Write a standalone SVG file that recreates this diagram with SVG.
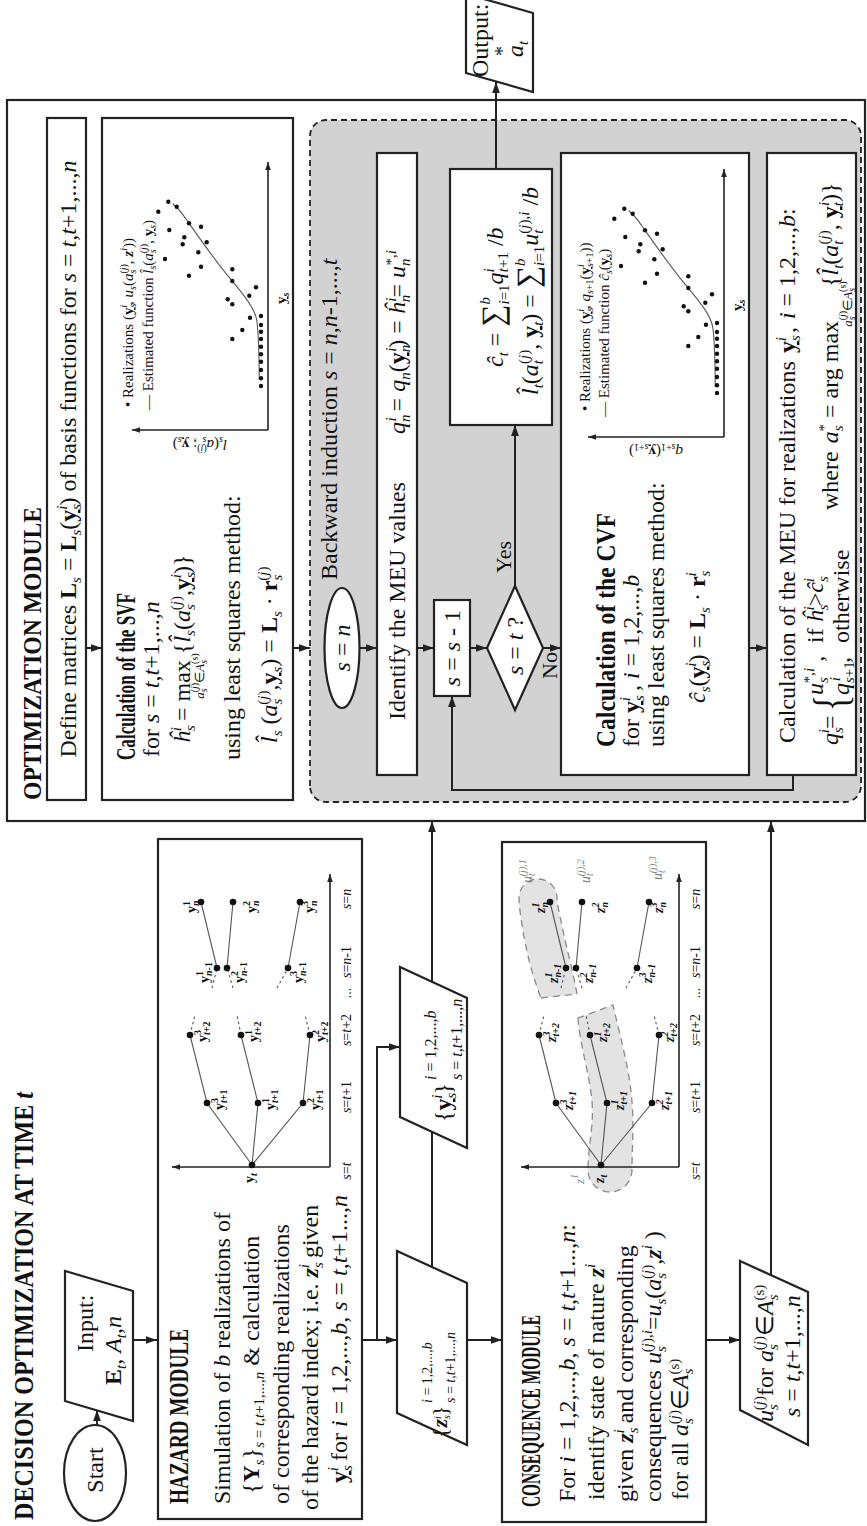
<svg xmlns="http://www.w3.org/2000/svg" width="867" height="1526" viewBox="0 0 867 1526">
<style>
svg{font-family:"Liberation Serif","Times New Roman",serif;font-size:24px}
text{fill:#111}
.bd{font-weight:bold}
.it{font-style:italic}
.ul{text-decoration:underline}
.sb{font-size:15px;baseline-shift:-5px}
.sp{font-size:15px;baseline-shift:9px}
.f13{font-size:13px}
.f14{font-size:14px}
.f15{font-size:15px}
.f16{font-size:16px}
.f20{font-size:20px}
.f22{font-size:22px}
.f26{font-size:26px}
.f27{font-size:27px}
.f30{font-size:31px}
.ls{font-size:10px;baseline-shift:-3px}
.lp{font-size:10px;baseline-shift:6px}
.gr{fill:#808080}
.box{fill:#fff;stroke:#222;stroke-width:2.2}
.ln{fill:none;stroke:#222;stroke-width:2}
.tl{fill:none;stroke:#555;stroke-width:1.1}
.dl{fill:none;stroke:#555;stroke-width:1.1;stroke-dasharray:2.5 3}
.ax{fill:none;stroke:#222;stroke-width:1.6}
.band{fill:#e3e3e3;stroke:#8a8a8a;stroke-width:1.3;stroke-dasharray:7 5}
.dot{fill:#111}
</style>
<defs>
<marker id="a" viewBox="0 0 10 10" refX="10" refY="5" markerWidth="11" markerHeight="11" orient="auto" markerUnits="userSpaceOnUse"><path d="M0,1.5L10,5L0,8.5z" fill="#222"/></marker>
<marker id="s" viewBox="0 0 10 10" refX="10" refY="5" markerWidth="8" markerHeight="8" orient="auto" markerUnits="userSpaceOnUse"><path d="M0,1.5L10,5L0,8.5z" fill="#222"/></marker>
<g id="tree">
<path class="ax" d="M359,330V172" marker-end="url(#s)"/>
<path class="ax" d="M359,330H652" marker-end="url(#s)"/>
<path class="tl" d="M361,252L423,207L491,190M361,252L423,258L491,241M361,252L423,303L491,310M558,217L624,201M558,227L624,233M558,288L624,300"/>
<path class="dl" d="M491,190L511,195M491,241L511,237M491,310L511,305M538,212L558,217M538,233L558,227M538,277L558,288"/>
<g class="dot">
<circle cx="361" cy="252" r="3.3"/>
<circle cx="423" cy="207" r="3.3"/><circle cx="423" cy="258" r="3.3"/><circle cx="423" cy="303" r="3.3"/>
<circle cx="491" cy="190" r="3.3"/><circle cx="491" cy="241" r="3.3"/><circle cx="491" cy="310" r="3.3"/>
<circle cx="558" cy="217" r="3.3"/><circle cx="558" cy="227" r="3.3"/><circle cx="558" cy="288" r="3.3"/>
<circle cx="624" cy="201" r="3.3"/><circle cx="624" cy="233" r="3.3"/><circle cx="624" cy="300" r="3.3"/>
</g>
<text class="f14" x="355" y="351" text-anchor="middle"><tspan class="it">s</tspan>=<tspan class="it">t</tspan></text>
<text class="f14" x="429" y="351" text-anchor="middle"><tspan class="it">s</tspan>=<tspan class="it">t</tspan>+1</text>
<text class="f14" x="496" y="351" text-anchor="middle"><tspan class="it">s</tspan>=<tspan class="it">t</tspan>+2</text>
<text class="f14" x="533" y="351" text-anchor="middle">...</text>
<text class="f14" x="564" y="351" text-anchor="middle"><tspan class="it">s</tspan>=<tspan class="it">n</tspan>-1</text>
<text class="f14" x="627" y="351" text-anchor="middle"><tspan class="it">s</tspan>=<tspan class="it">n</tspan></text>
</g>
<g id="chart">
<path class="ax" d="M1096,268V132" marker-end="url(#s)"/>
<path class="ax" d="M1096,268H1364" marker-end="url(#s)"/>
<path class="tl" d="M1146,259.3C1180,259 1195,258.5 1206,256.7S1230,245 1247.7,230S1290,198 1306,186.7S1318,176 1322.7,172.7"/>
<g class="dot">
<circle cx="1324.3" cy="168.3" r="2.2"/><circle cx="1319.3" cy="176.7" r="2.2"/><circle cx="1314.3" cy="158.3" r="2.2"/><circle cx="1296" cy="169.3" r="2.2"/>
<circle cx="1302.7" cy="189" r="2.2"/><circle cx="1299.3" cy="201" r="2.2"/><circle cx="1288.7" cy="184.3" r="2.2"/><circle cx="1281.7" cy="182.7" r="2.2"/>
<circle cx="1283.7" cy="206.7" r="2.2"/><circle cx="1273.7" cy="198.3" r="2.2"/><circle cx="1267" cy="165" r="2.2"/><circle cx="1259.3" cy="201" r="2.2"/>
<circle cx="1250.3" cy="189" r="2.2"/><circle cx="1256.7" cy="232.3" r="2.2"/><circle cx="1245" cy="232.3" r="2.2"/><circle cx="1238.7" cy="256" r="2.2"/>
<circle cx="1230.3" cy="249.3" r="2.2"/><circle cx="1226.7" cy="227.7" r="2.2"/><circle cx="1221.7" cy="232.3" r="2.2"/><circle cx="1210" cy="261" r="2.2"/>
<circle cx="1208.3" cy="250" r="2.2"/><circle cx="1201" cy="261" r="2.2"/><circle cx="1194.3" cy="261" r="2.2"/><circle cx="1196" cy="242.3" r="2.2"/>
<circle cx="1187" cy="261" r="2.2"/><circle cx="1187" cy="232.3" r="2.2"/><circle cx="1179.3" cy="261" r="2.2"/><circle cx="1171.7" cy="261" r="2.2"/>
<circle cx="1164.3" cy="261" r="2.2"/><circle cx="1156" cy="261" r="2.2"/><circle cx="1147.7" cy="261" r="2.2"/><circle cx="1140" cy="261" r="2.2"/>
</g>
</g>
</defs>
<g transform="translate(0,1526) rotate(-90)">

<text class="bd f27" x="6" y="33" textLength="428" lengthAdjust="spacingAndGlyphs">DECISION OPTIMIZATION AT TIME <tspan class="it">t</tspan></text>

<g id="optimization-frame">
<rect class="box" x="705" y="7" width="721" height="858"/>
<text class="bd f26" x="726" y="41" textLength="293" lengthAdjust="spacingAndGlyphs">OPTIMIZATION MODULE</text>
<rect x="724" y="310" width="682" height="551" rx="16" fill="#d2d2d2" stroke="#222" stroke-width="1.8" stroke-dasharray="6 4"/>
<text x="946" y="337">Backward induction <tspan class="it">s</tspan> = <tspan class="it">n</tspan>,<tspan class="it">n</tspan>-1,...,<tspan class="it">t</tspan></text>
</g>

<g id="connectors">
<path class="ln" d="M101,97H116" marker-end="url(#a)"/>
<path class="ln" d="M186,133V157" marker-end="url(#a)"/>
<path class="ln" d="M186,362V397" marker-end="url(#a)"/>
<path class="ln" d="M186,377H479V400" marker-end="url(#a)"/>
<path class="ln" d="M186,467V502" marker-end="url(#a)"/>
<path class="ln" d="M259,432H705" marker-end="url(#a)"/>
<path class="ln" d="M186,706V740" marker-end="url(#a)"/>
<path class="ln" d="M251,771H705" marker-end="url(#a)"/>
<path class="ln" d="M878,86V102" marker-end="url(#a)"/>
<path class="ln" d="M878,293V310" marker-end="url(#a)"/>
<path class="ln" d="M878,360V377" marker-end="url(#a)"/>
<path class="ln" d="M878,417V434" marker-end="url(#a)"/>
<path class="ln" d="M878,470V487" marker-end="url(#a)"/>
<path class="ln" d="M878,543V561" marker-end="url(#a)"/>
<path class="ln" d="M940,515H1101" marker-end="url(#a)"/>
<path class="ln" d="M878,749V767" marker-end="url(#a)"/>
<path class="ln" d="M751,793H736V452H830" marker-end="url(#a)"/>
<path class="ln" d="M1357,496H1444" marker-end="url(#a)"/>
<text class="f22" x="847" y="557">No</text>
<text class="f22" x="953" y="511">Yes</text>
</g>

<g id="start">
<ellipse class="box" cx="53" cy="95" rx="48" ry="31"/>
<text x="56" y="103" text-anchor="middle">Start</text>
</g>

<g id="input">
<polygon class="box" points="125,65 255,65 235,133 105,133"/>
<text x="174" y="93">Input:</text>
<text x="141" y="121"><tspan class="bd">E</tspan><tspan class="sb it">t</tspan>, <tspan class="it">A</tspan><tspan class="sb it">t</tspan>,<tspan class="it">n</tspan></text>
</g>

<g id="hazard-module">
<rect class="box" x="7" y="158" width="680" height="204"/>
<text class="bd f27" x="22" y="188" textLength="175" lengthAdjust="spacingAndGlyphs">HAZARD MODULE</text>
<text x="22" y="230">Simulation of <tspan class="it">b</tspan> realizations of</text>
<text x="32" y="259">{<tspan class="bd">Y</tspan><tspan class="sb it">s</tspan>}<tspan class="sb"><tspan class="it">s</tspan> = <tspan class="it">t</tspan>,<tspan class="it">t</tspan>+1,...,<tspan class="it">n</tspan></tspan> &amp; calculation</text>
<text x="22" y="289">of corresponding realizations</text>
<text x="16" y="318">of the hazard index; i.e. <tspan class="bd it">z</tspan><tspan class="sb it">s</tspan><tspan class="sp it" dx="-6">i</tspan> given</text>
<text x="43" y="347"><tspan class="bd ul">y</tspan><tspan class="sb it">s</tspan><tspan class="sp it" dx="-6">i</tspan> for <tspan class="it">i</tspan> = 1,2,...,<tspan class="it">b</tspan>, <tspan class="it">s</tspan> = <tspan class="it">t</tspan>,<tspan class="it">t</tspan>+1...,<tspan class="it">n</tspan></text>
<use href="#tree"/>
<g class="bd">
<text class="f14" x="343" y="254">y<tspan class="ls it">t</tspan></text>
<text class="f14" x="416" y="224">y<tspan class="lp">3</tspan><tspan class="ls it" dx="-5">t</tspan><tspan class="ls">+1</tspan></text>
<text class="f14" x="416" y="275">y<tspan class="lp">1</tspan><tspan class="ls it" dx="-5">t</tspan><tspan class="ls">+1</tspan></text>
<text class="f14" x="416" y="320">y<tspan class="lp">2</tspan><tspan class="ls it" dx="-5">t</tspan><tspan class="ls">+1</tspan></text>
<text class="f14" x="484" y="207">y<tspan class="lp">3</tspan><tspan class="ls it" dx="-5">t</tspan><tspan class="ls">+2</tspan></text>
<text class="f14" x="484" y="258">y<tspan class="lp">1</tspan><tspan class="ls it" dx="-5">t</tspan><tspan class="ls">+2</tspan></text>
<text class="f14" x="484" y="325">y<tspan class="lp">2</tspan><tspan class="ls it" dx="-5">t</tspan><tspan class="ls">+2</tspan></text>
<text class="f14" x="543" y="209">y<tspan class="lp">1</tspan><tspan class="ls it" dx="-5">n</tspan><tspan class="ls">-1</tspan></text>
<text class="f14" x="543" y="244">y<tspan class="lp">2</tspan><tspan class="ls it" dx="-5">n</tspan><tspan class="ls">-1</tspan></text>
<text class="f14" x="543" y="303">y<tspan class="lp">3</tspan><tspan class="ls it" dx="-5">n</tspan><tspan class="ls">-1</tspan></text>
<text class="f14" x="613" y="196">y<tspan class="lp">1</tspan><tspan class="ls it" dx="-5">n</tspan></text>
<text class="f14" x="613" y="256">y<tspan class="lp">2</tspan><tspan class="ls it" dx="-5">n</tspan></text>
<text class="f14" x="613" y="314">y<tspan class="lp">3</tspan><tspan class="ls it" dx="-5">n</tspan></text>
</g>
</g>

<g id="z-realizations">
<polygon class="box" points="113,397 275,397 243,467 81,467"/>
<text class="f22" x="88" y="447">{<tspan class="bd it">z</tspan><tspan class="ls it">s</tspan><tspan class="lp it" dx="-4">i</tspan>}</text>
<text class="f14" x="123" y="432"><tspan class="it">i</tspan> = 1,2,...,<tspan class="it">b</tspan></text>
<text class="f14" x="123" y="455"><tspan class="it">s</tspan> = <tspan class="it">t</tspan>,<tspan class="it">t</tspan>+1,...,<tspan class="it">n</tspan></text>
</g>

<g id="y-realizations">
<polygon class="box" points="409,400 559,400 528,467 378,467"/>
<text x="404" y="451">{<tspan class="bd ul">y</tspan><tspan class="sb it">s</tspan><tspan class="sp it" dx="-6">i</tspan>}</text>
<text class="f16" x="446" y="436"><tspan class="it">i</tspan> = 1,2,...,<tspan class="it">b</tspan></text>
<text class="f16" x="446" y="462"><tspan class="it">s</tspan> = <tspan class="it">t</tspan>,<tspan class="it">t</tspan>+1,...,<tspan class="it">n</tspan></text>
</g>

<g id="consequence-module">
<rect class="box" x="4" y="502" width="680" height="204"/>
<path class="band" d="M508,578C480,580 450,590 424,592C400,594 380,588 356,588A22,22 0 0 0 356,632C380,632 400,634 424,632C455,630 490,620 521,613Z"/>
<path class="band" d="M528,541L532,577C550,574 580,566 600,562C615,559 622,557 628,557A19,19 0 0 0 628,519C615,519 580,525 558,531C545,535 535,538 528,541Z"/>
<use href="#tree" transform="translate(0,349)"/>
<text class="bd f27" x="19" y="540" textLength="192" lengthAdjust="spacingAndGlyphs">CONSEQUENCE MODULE</text>
<text x="24" y="575">For <tspan class="it">i</tspan> = 1,2,...,<tspan class="it">b</tspan>, <tspan class="it">s</tspan> = <tspan class="it">t</tspan>,<tspan class="it">t</tspan>+1...,<tspan class="it">n</tspan>:</text>
<text x="26" y="604">identify state of nature <tspan class="bd it">z</tspan><tspan class="sp it">i</tspan></text>
<text x="24" y="633">given <tspan class="bd it">z</tspan><tspan class="sb it">s</tspan><tspan class="sp it" dx="-6">i</tspan> and corresponding</text>
<text x="24" y="661">consequences <tspan class="it">u</tspan><tspan class="sb it">s</tspan><tspan class="sp" dx="-6">(<tspan class="it">j</tspan>),<tspan class="it">i</tspan></tspan>=<tspan class="it">u</tspan><tspan class="sb it">s</tspan>(<tspan class="it">a</tspan><tspan class="sb it">s</tspan><tspan class="sp" dx="-6">(<tspan class="it">j</tspan>)</tspan>,<tspan class="bd it">z</tspan><tspan class="sp it">i</tspan> )</text>
<text x="26" y="688">for all <tspan class="it">a</tspan><tspan class="sb it">s</tspan><tspan class="sp" dx="-6">(<tspan class="it">j</tspan>)</tspan>∈<tspan class="it">A</tspan><tspan class="sb it">s</tspan><tspan class="sp" dx="-6">(s)</tspan></text>
<text class="f13 gr it" x="342" y="584">z<tspan class="lp">1</tspan></text>
<text class="f14 gr it" x="643" y="532">u<tspan class="ls">t</tspan><tspan class="lp" dx="-3">(j),1</tspan></text>
<text class="f14 gr it" x="643" y="590">u<tspan class="ls">t</tspan><tspan class="lp" dx="-3">(j),2</tspan></text>
<text class="f14 gr it" x="646" y="662">u<tspan class="ls">t</tspan><tspan class="lp" dx="-3">(j),3</tspan></text>
<g class="bd it">
<text class="f14" x="343" y="604">z<tspan class="ls">t</tspan></text>
<text class="f14" x="416" y="573">z<tspan class="lp">3</tspan><tspan class="ls" dx="-5">t</tspan><tspan class="ls">+1</tspan></text>
<text class="f14" x="416" y="624">z<tspan class="lp">1</tspan><tspan class="ls" dx="-5">t</tspan><tspan class="ls">+1</tspan></text>
<text class="f14" x="416" y="669">z<tspan class="lp">2</tspan><tspan class="ls" dx="-5">t</tspan><tspan class="ls">+1</tspan></text>
<text class="f14" x="484" y="556">z<tspan class="lp">3</tspan><tspan class="ls" dx="-5">t</tspan><tspan class="ls">+2</tspan></text>
<text class="f14" x="484" y="607">z<tspan class="lp">1</tspan><tspan class="ls" dx="-5">t</tspan><tspan class="ls">+2</tspan></text>
<text class="f14" x="484" y="674">z<tspan class="lp">2</tspan><tspan class="ls" dx="-5">t</tspan><tspan class="ls">+2</tspan></text>
<text class="f14" x="543" y="558">z<tspan class="lp">1</tspan><tspan class="ls" dx="-5">n</tspan><tspan class="ls">-1</tspan></text>
<text class="f14" x="543" y="593">z<tspan class="lp">2</tspan><tspan class="ls" dx="-5">n</tspan><tspan class="ls">-1</tspan></text>
<text class="f14" x="543" y="652">z<tspan class="lp">3</tspan><tspan class="ls" dx="-5">n</tspan><tspan class="ls">-1</tspan></text>
<text class="f14" x="613" y="545">z<tspan class="lp">1</tspan><tspan class="ls" dx="-5">n</tspan></text>
<text class="f14" x="613" y="605">z<tspan class="lp">2</tspan><tspan class="ls" dx="-5">n</tspan></text>
<text class="f14" x="613" y="663">z<tspan class="lp">3</tspan><tspan class="ls" dx="-5">n</tspan></text>
</g>
</g>

<g id="consequence-output">
<polygon class="box" points="116,740 265,740 234,808 81,808"/>
<text x="104" y="773"><tspan class="it">u</tspan><tspan class="sb it">s</tspan><tspan class="sp" dx="-6">(<tspan class="it">j</tspan>)</tspan>for <tspan class="it">a</tspan><tspan class="sb it">s</tspan><tspan class="sp" dx="-6">(<tspan class="it">j</tspan>)</tspan>∈<tspan class="it">A</tspan><tspan class="sb it">s</tspan><tspan class="sp" dx="-6">(s)</tspan></text>
<text x="109" y="800"><tspan class="it">s</tspan> = <tspan class="it">t</tspan>,<tspan class="it">t</tspan>+1,...,<tspan class="it">n</tspan></text>
</g>

<g id="define-matrices">
<rect class="box" x="726" y="47" width="682" height="39"/>
<text x="1067" y="76" text-anchor="middle">Define matrices <tspan class="bd">L</tspan><tspan class="sb it">s</tspan> = <tspan class="bd">L</tspan><tspan class="sb it">s</tspan>(<tspan class="bd ul">y</tspan><tspan class="sb it">s</tspan><tspan class="sp it" dx="-6">i</tspan>) of basis functions for <tspan class="it">s</tspan> = <tspan class="it">t</tspan>,<tspan class="it">t</tspan>+1,...,<tspan class="it">n</tspan></text>
</g>

<g id="svf">
<rect class="box" x="726" y="102" width="682" height="191"/>
<text class="bd f27" x="766" y="135" textLength="167" lengthAdjust="spacingAndGlyphs">Calculation of the SVF</text>
<text x="769" y="159">for <tspan class="it">s</tspan> = <tspan class="it">t</tspan>,<tspan class="it">t</tspan>+1,...,<tspan class="it">n</tspan></text>
<text x="783" y="190"><tspan class="it">ĥ</tspan><tspan class="sb it">s</tspan><tspan class="sp it" dx="-6">i</tspan> = max {<tspan class="it">l̂</tspan><tspan class="sb it">s</tspan>(<tspan class="it">a</tspan><tspan class="sb it">s</tspan><tspan class="sp" dx="-6">(<tspan class="it">j</tspan>)</tspan>,<tspan class="bd ul">y</tspan><tspan class="sb it">s</tspan><tspan class="sp it" dx="-6">i</tspan>)}</text>
<text class="f13" x="850" y="204" text-anchor="middle"><tspan class="it">a</tspan><tspan class="ls it">s</tspan><tspan class="lp" dx="-4">(<tspan class="it">j</tspan>)</tspan>∈<tspan class="it">A</tspan><tspan class="ls it">s</tspan><tspan class="lp" dx="-4">(s)</tspan></text>
<text x="766" y="240">using least squares method:</text>
<text x="783" y="277"><tspan class="it">l̂</tspan><tspan class="sb it">s</tspan> (<tspan class="it">a</tspan><tspan class="sb it">s</tspan><tspan class="sp" dx="-6">(<tspan class="it">j</tspan>)</tspan>,<tspan class="bd ul">y</tspan><tspan class="sb it">s</tspan>) = <tspan class="bd">L</tspan><tspan class="sb it">s</tspan> · <tspan class="bd">r</tspan><tspan class="sb it">s</tspan><tspan class="sp" dx="-6">(<tspan class="it">j</tspan>)</tspan></text>
<use href="#chart"/>
<text class="f15" x="1119" y="133">• Realizations (<tspan class="bd ul">y</tspan><tspan class="ls it">s</tspan><tspan class="lp it" dx="-4">i</tspan>, <tspan class="it">u</tspan><tspan class="ls it">s</tspan>(<tspan class="it">a</tspan><tspan class="ls it">s</tspan><tspan class="lp" dx="-4">(<tspan class="it">j</tspan>)</tspan>, <tspan class="bd it">z</tspan><tspan class="lp it">i</tspan>))</text>
<text class="f15" x="1116" y="153">— Estimated function <tspan class="it">l̂</tspan><tspan class="ls it">s</tspan>(<tspan class="it">a</tspan><tspan class="ls it">s</tspan><tspan class="lp" dx="-4">(<tspan class="it">j</tspan>)</tspan>, <tspan class="bd ul">y</tspan><tspan class="ls it">s</tspan>)</text>
<text class="f15" transform="translate(1086,200) rotate(-90)" text-anchor="middle"><tspan class="it">l</tspan><tspan class="ls it">s</tspan>(<tspan class="it">a</tspan><tspan class="ls it">s</tspan><tspan class="lp" dx="-4">(<tspan class="it">j</tspan>)</tspan>; <tspan class="bd ul">y</tspan><tspan class="ls it">s</tspan>)</text>
<text class="f15 bd" x="1222" y="286"><tspan class="ul">y</tspan><tspan class="ls it">s</tspan></text>
</g>

<g id="s-equals-n">
<ellipse class="box" cx="878" cy="342" rx="60" ry="17.5"/>
<text x="878" y="350" text-anchor="middle"><tspan class="it">s</tspan> = <tspan class="it">n</tspan></text>
</g>

<g id="identify-meu">
<rect class="box" x="751" y="377" width="622" height="40"/>
<text x="806" y="405">Identify the MEU values<tspan class="it" dx="48">q</tspan><tspan class="sb it">n</tspan><tspan class="sp it" dx="-7">i</tspan> = <tspan class="it">q</tspan><tspan class="sb it">n</tspan>(<tspan class="bd ul">y</tspan><tspan class="sb it">n</tspan><tspan class="sp it" dx="-7">i</tspan>) = <tspan class="it">ĥ</tspan><tspan class="sb it">n</tspan><tspan class="sp it" dx="-7">i</tspan>= <tspan class="it">u</tspan><tspan class="sb it">n</tspan><tspan class="sp" dx="-7">*,<tspan class="it">i</tspan></tspan></text>
</g>

<g id="decrement">
<rect class="box" x="830" y="434" width="96" height="36"/>
<text x="878" y="460" text-anchor="middle"><tspan class="it">s</tspan> = <tspan class="it">s</tspan> - 1</text>
</g>

<g id="decision">
<polygon class="box" points="878,487 940,515 878,543 816,515"/>
<text x="880" y="523" text-anchor="middle"><tspan class="it">s</tspan> = <tspan class="it">t</tspan> ?</text>
</g>

<g id="final-value">
<rect class="box" x="1101" y="450" width="256" height="102"/>
<text x="1159" y="503"><tspan class="it">ĉ</tspan><tspan class="sb it">t</tspan> = <tspan class="f30">∑</tspan><tspan class="it" style="font-size:15px;baseline-shift:13px">b</tspan><tspan style="font-size:15px;baseline-shift:-6px" dx="-7.5"><tspan class="it">i</tspan>=1</tspan><tspan class="it">q</tspan><tspan class="sp it">i</tspan><tspan class="sb" dx="-4"><tspan class="it">t</tspan>+1</tspan> /<tspan class="it">b</tspan></text>
<text x="1131" y="538"><tspan class="it">l̂</tspan><tspan class="sb it">t</tspan>(<tspan class="it">a</tspan><tspan class="sb it">t</tspan><tspan class="sp" dx="-4">(<tspan class="it">j</tspan>)</tspan>, <tspan class="bd ul">y</tspan><tspan class="sb it">t</tspan>) = <tspan class="f30">∑</tspan><tspan class="it" style="font-size:15px;baseline-shift:13px">b</tspan><tspan style="font-size:15px;baseline-shift:-6px" dx="-7.5"><tspan class="it">i</tspan>=1</tspan><tspan class="it">u</tspan><tspan class="sb it">t</tspan><tspan class="sp" dx="-4">(<tspan class="it">j</tspan>),<tspan class="it">i</tspan></tspan> /<tspan class="it">b</tspan></text>
</g>

<g id="output">
<polygon class="box" points="1453,466 1532,466 1513,533 1434,533"/>
<text x="1449" y="488">Output:</text>
<text x="1469" y="523"><tspan class="it">a</tspan><tspan class="sb it">t</tspan></text>
<text class="f20" x="1470" y="509">*</text>
</g>

<g id="cvf">
<rect class="box" x="751" y="561" width="622" height="188"/>
<text class="bd f27" x="779" y="615" textLength="234" lengthAdjust="spacingAndGlyphs">Calculation of the CVF</text>
<text x="779" y="639">for <tspan class="bd ul">y</tspan><tspan class="sb it">s</tspan><tspan class="sp it" dx="-6">i</tspan> ,  <tspan class="it">i</tspan> = 1,2,...,<tspan class="it">b</tspan></text>
<text x="779" y="664">using least squares method:</text>
<text x="823" y="705"><tspan class="it">ĉ</tspan><tspan class="sb it">s</tspan>(<tspan class="bd ul">y</tspan><tspan class="sb it">s</tspan><tspan class="sp it" dx="-6">i</tspan>) = <tspan class="bd">L</tspan><tspan class="sb it">s</tspan> · <tspan class="bd">r</tspan><tspan class="sb it">s</tspan><tspan class="sp it" dx="-6">i</tspan></text>
<use href="#chart" transform="translate(-7,456)"/>
<text class="f15" x="1115" y="590">• Realizations (<tspan class="bd ul">y</tspan><tspan class="ls it">s</tspan><tspan class="lp it" dx="-4">i</tspan>, <tspan class="it">q</tspan><tspan class="ls"><tspan class="it">s</tspan>+1</tspan>(<tspan class="bd ul">y</tspan><tspan class="lp it">i</tspan><tspan class="ls" dx="-3"><tspan class="it">s</tspan>+1</tspan>))</text>
<text class="f15" x="1109" y="609">— Estimated function <tspan class="it">ĉ</tspan><tspan class="ls it">s</tspan>(<tspan class="bd ul">y</tspan><tspan class="ls it">s</tspan>)</text>
<text class="f15" transform="translate(1079,656) rotate(-90)" text-anchor="middle"><tspan class="it">q</tspan><tspan class="ls"><tspan class="it">s</tspan>+1</tspan>(<tspan class="bd ul">y</tspan><tspan class="ls"><tspan class="it">s</tspan>+1</tspan>)</text>
<text class="f15 bd" x="1215" y="742"><tspan class="ul">y</tspan><tspan class="ls it">s</tspan></text>
</g>

<g id="meu">
<rect class="box" x="751" y="767" width="622" height="89"/>
<text x="783" y="795">Calculation of the MEU<tspan dx="6">for</tspan><tspan dx="6">realizations</tspan><tspan class="bd ul" dx="8">y</tspan><tspan class="sb it">s</tspan><tspan class="sp it" dx="-6">i</tspan><tspan dx="4">,</tspan><tspan class="it" dx="8">i</tspan> = 1,2,...,<tspan class="it">b</tspan>:</text>
<text x="781" y="838"><tspan class="it">q</tspan><tspan class="sb it">s</tspan><tspan class="sp it" dx="-6">i</tspan>=</text>
<text transform="translate(815,847) scale(1,1.45)" font-size="34">{</text>
<text x="831" y="823"><tspan class="it">u</tspan><tspan class="sb it">s</tspan><tspan class="sp" dx="-6">*,<tspan class="it">i</tspan></tspan> ,</text>
<text x="883" y="823">if <tspan class="it">ĥ</tspan><tspan class="sb it">s</tspan><tspan class="sp it" dx="-6">i</tspan>&gt;<tspan class="it">ĉ</tspan><tspan class="sb it">s</tspan><tspan class="sp it" dx="-6">i</tspan></text>
<text x="831" y="849"><tspan class="it">q</tspan><tspan class="sb"><tspan class="it">s</tspan>+1</tspan><tspan class="sp it" dx="-20">i</tspan><tspan dx="14">,</tspan></text>
<text x="883" y="849">otherwise</text>
<text x="1016" y="838">where<tspan class="it" dx="8">a</tspan><tspan class="sb it">s</tspan><tspan class="sp" dx="-6">*</tspan> = arg max</text>
<text class="f13" x="1222" y="852" text-anchor="middle"><tspan class="it">a</tspan><tspan class="ls it">s</tspan><tspan class="lp" dx="-4">(<tspan class="it">j</tspan>)</tspan>∈<tspan class="it">A</tspan><tspan class="ls it">s</tspan><tspan class="lp" dx="-4">(s)</tspan></text>
<text x="1239" y="838">{<tspan class="it">l̂</tspan><tspan class="sb it">t</tspan>(<tspan class="it">a</tspan><tspan class="sb it">t</tspan><tspan class="sp" dx="-4">(<tspan class="it">j</tspan>)</tspan>, <tspan class="bd ul">y</tspan><tspan class="sb it">t</tspan><tspan class="sp it" dx="-4">i</tspan>)}</text>
</g>

</g>
</svg>
